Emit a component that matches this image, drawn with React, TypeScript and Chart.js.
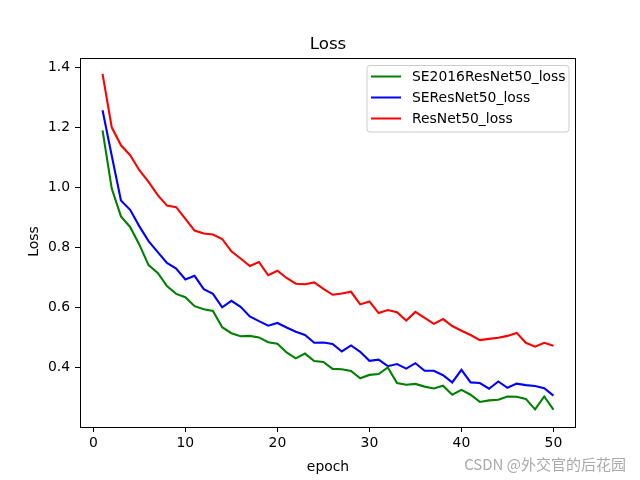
import React, { useEffect, useRef } from "react";
import { Chart, registerables } from "chart.js";

Chart.register(...registerables);

const epochs = [
  1, 2, 3, 4, 5, 6, 7, 8, 9, 10, 11, 12, 13, 14, 15, 16, 17, 18, 19, 20, 21, 22, 23, 24, 25,
  26, 27, 28, 29, 30, 31, 32, 33, 34, 35, 36, 37, 38, 39, 40, 41, 42, 43, 44, 45, 46, 47, 48, 49, 50,
];

const se2016Loss = [
  1.19, 0.996, 0.903, 0.868, 0.809, 0.741, 0.715, 0.671, 0.645, 0.634,
  0.604, 0.594, 0.588, 0.534, 0.514, 0.504, 0.505, 0.5, 0.484, 0.479,
  0.45, 0.43, 0.446, 0.421, 0.418, 0.395, 0.394, 0.388, 0.364, 0.375,
  0.378, 0.4, 0.348, 0.342, 0.345, 0.336, 0.33, 0.339, 0.309, 0.325,
  0.309, 0.285, 0.29, 0.292, 0.303, 0.302, 0.295, 0.26, 0.303, 0.259,
];

const seLoss = [
  1.257, 1.105, 0.956, 0.925, 0.87, 0.821, 0.784, 0.748, 0.729, 0.693,
  0.705, 0.661, 0.645, 0.6, 0.622, 0.602, 0.57, 0.554, 0.539, 0.548,
  0.533, 0.519, 0.508, 0.482, 0.483, 0.478, 0.453, 0.473, 0.452, 0.422,
  0.426, 0.404, 0.411, 0.396, 0.414, 0.389, 0.389, 0.374, 0.35, 0.392,
  0.35, 0.348, 0.329, 0.353, 0.332, 0.346, 0.341, 0.338, 0.331, 0.306,
];

const resLoss = [
  1.378, 1.2, 1.14, 1.107, 1.057, 1.018, 0.974, 0.939, 0.934, 0.895,
  0.856, 0.846, 0.843, 0.828, 0.787, 0.763, 0.738, 0.751, 0.707, 0.722,
  0.698, 0.679, 0.677, 0.683, 0.662, 0.642, 0.646, 0.652, 0.61, 0.62,
  0.581, 0.591, 0.584, 0.556, 0.585, 0.565, 0.545, 0.561, 0.538, 0.522,
  0.508, 0.491, 0.495, 0.499, 0.505, 0.515, 0.482, 0.469, 0.482, 0.472,
];

const seriesLabels = ["SE2016ResNet50_loss", "SEResNet50_loss", "ResNet50_loss"];
const seriesColors = ["#008000", "#0000ff", "#ff0000"];
const xTicks = [0, 10, 20, 30, 40, 50];
const yTicks = [0.4, 0.6, 0.8, 1.0, 1.2, 1.4];
const titleText = "Loss";
const xTitle = "epoch";
const yTitle = "Loss";
const watermark = "CSDN @外交官的后花园";

const FONT = "'DejaVu Sans', sans-serif";

const decorPlugin = {
  id: "decor",
  afterDraw(chart: any) {
    const ctx = chart.ctx;
    const a = chart.chartArea;
    ctx.save();
    // frame
    ctx.strokeStyle = "#000";
    ctx.lineWidth = 1;
    ctx.strokeRect(Math.round(a.left) + 0.5, Math.round(a.top) + 0.5, Math.round(a.right - a.left) - 1, Math.round(a.bottom - a.top));
    // title
    const cx = (a.left + a.right) / 2;
    ctx.fillStyle = "#000";
    ctx.font = `16.7px ${FONT}`;
    ctx.textAlign = "center";
    ctx.textBaseline = "alphabetic";
    ctx.fillText(titleText, cx, 49);
    // x title
    ctx.font = `13.9px ${FONT}`;
    ctx.fillText(xTitle, cx, 471);
    // y title
    ctx.save();
    ctx.translate(38, (a.top + a.bottom) / 2 - 1);
    ctx.rotate(-Math.PI / 2);
    ctx.textAlign = "center";
    ctx.textBaseline = "alphabetic";
    ctx.fillText(yTitle, 0, 0);
    ctx.restore();
    // legend
    const lx = 367, ly = 65.5, lw = 202, lh = 66.5, r = 3;
    ctx.beginPath();
    ctx.moveTo(lx + r, ly);
    ctx.lineTo(lx + lw - r, ly);
    ctx.arcTo(lx + lw, ly, lx + lw, ly + r, r);
    ctx.lineTo(lx + lw, ly + lh - r);
    ctx.arcTo(lx + lw, ly + lh, lx + lw - r, ly + lh, r);
    ctx.lineTo(lx + r, ly + lh);
    ctx.arcTo(lx, ly + lh, lx, ly + lh - r, r);
    ctx.lineTo(lx, ly + r);
    ctx.arcTo(lx, ly, lx + r, ly, r);
    ctx.closePath();
    ctx.fillStyle = "rgba(255,255,255,0.8)";
    ctx.fill();
    ctx.strokeStyle = "#cccccc";
    ctx.lineWidth = 1;
    ctx.stroke();
    chart.data.datasets.forEach((ds: any, i: number) => {
      const y = 76.5 + i * 21;
      ctx.strokeStyle = ds.borderColor;
      ctx.lineWidth = 2;
      ctx.beginPath();
      ctx.moveTo(371, y);
      ctx.lineTo(401, y);
      ctx.stroke();
      ctx.fillStyle = "#000";
      ctx.font = `13.9px ${FONT}`;
      ctx.textAlign = "left";
      ctx.textBaseline = "middle";
      ctx.fillText(ds.label, 412, y + 1);
    });
    // watermark
    ctx.font = `15px 'Noto Sans CJK SC', sans-serif`;
    ctx.fillStyle = "rgba(140,140,140,0.75)";
    ctx.textAlign = "right";
    ctx.textBaseline = "middle";
    ctx.fillText(watermark, 626, 464);
    ctx.restore();
  },
};

export default function App() {
  const ref = useRef<HTMLCanvasElement | null>(null);
  useEffect(() => {
    document.body.style.margin = "0";
    const seriesValues = [se2016Loss, seLoss, resLoss];
    const chart = new Chart(ref.current as HTMLCanvasElement, {
      type: "line",
      data: {
        datasets: seriesValues.map((vals, i) => ({
          label: seriesLabels[i],
          data: epochs.map((e, j) => ({ x: e, y: vals[j] })),
          borderColor: seriesColors[i],
          backgroundColor: seriesColors[i],
          borderWidth: 2.1,
          pointRadius: 0,
          tension: 0,
          fill: false,
        })),
      },
      options: {
        responsive: false,
        animation: false,
        layout: { padding: { left: 0, right: 64, top: 58, bottom: 0 } },
        plugins: {
          legend: { display: false },
          title: { display: false },
          tooltip: { enabled: false },
        },
        scales: {
          x: {
            type: "linear",
            min: -1.45,
            max: 52.45,
            afterBuildTicks: (s: any) => {
              s.ticks = xTicks.map((v) => ({ value: v }));
            },
            afterFit: (s: any) => {
              s.height = 53;
            },
            ticks: {
              color: "#000",
              font: { family: FONT, size: 13.9 },
              padding: 3,
              maxRotation: 0,
              autoSkip: false,
              callback: (v: any) => String(v),
            },
            grid: {
              display: true,
              drawOnChartArea: false,
              drawTicks: true,
              tickLength: 5,
              color: "#000",
              lineWidth: 1,
            },
            border: { display: false },
          },
          y: {
            type: "linear",
            min: 0.2014,
            max: 1.431,
            afterBuildTicks: (s: any) => {
              s.ticks = yTicks.map((v) => ({ value: v }));
            },
            afterFit: (s: any) => {
              s.width = 80;
            },
            ticks: {
              color: "#000",
              font: { family: FONT, size: 13.9 },
              padding: 5,
              autoSkip: false,
              callback: (v: any) => Number(v).toFixed(1),
            },
            grid: {
              display: true,
              drawOnChartArea: false,
              drawTicks: true,
              tickLength: 5,
              color: "#000",
              lineWidth: 1,
            },
            border: { display: false },
          },
        },
      },
      plugins: [decorPlugin],
    });
    return () => chart.destroy();
  }, []);
  return (
    <div style={{ position: "absolute", left: 0, top: 0, width: 640, height: 480, background: "#fff" }}>
      <canvas ref={ref} width={640} height={480} />
    </div>
  );
}
